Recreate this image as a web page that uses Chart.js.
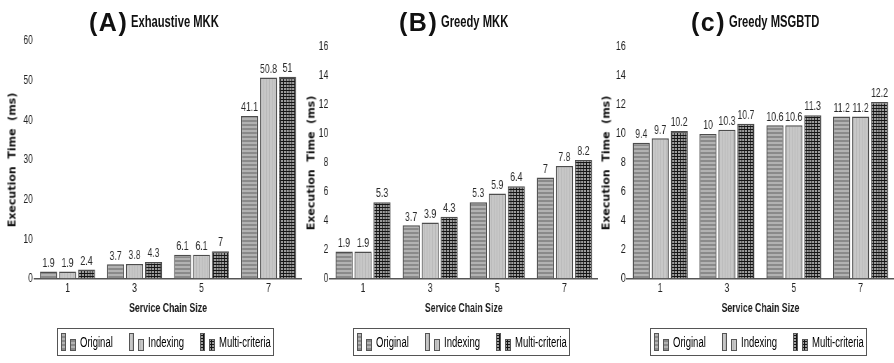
<!DOCTYPE html>
<html>
<head>
<meta charset="utf-8">
<script src="https://cdn.jsdelivr.net/npm/chart.js@4.4.0/dist/chart.umd.min.js"></script>
<style>
  html, body { margin: 0; padding: 0; background: #fff; }
  body { width: 894px; height: 363px; position: relative; overflow: hidden; font-family: "Liberation Sans", Arial, sans-serif; }
  canvas.chart { position: absolute; top: 0; }
  .title { position: absolute; top: 8px; height: 24px; line-height: 24px; white-space: nowrap; color: #111; }
  .title .tag { font: bold 25px "Liberation Sans", Arial, sans-serif; letter-spacing: 1.5px; }
  .title .name { display: inline-block; font: bold 16px "Liberation Sans", Arial, sans-serif; line-height: 16px;
                 transform: scaleX(0.7); transform-origin: left; vertical-align: 4px; margin-left: 3px; }
  .ytitle { position: absolute; white-space: pre; font: bold 11px "DejaVu Sans", sans-serif; color: #111;
            transform: translate(-50%, -50%) rotate(-90deg); }
  .legend { position: absolute; top: 328px; height: 28px; border: 1px solid #555; box-sizing: border-box;
            display: flex; align-items: center; padding: 0 2px; color: #000; font: 14px "Liberation Sans", Arial, sans-serif; }
  .legend .item { display: flex; align-items: center; }
  .legend .txt { display: inline-block; transform: scaleX(0.68); transform-origin: left; white-space: nowrap; }
  .legend canvas { display: block; margin-right: 3px; }
</style>
</head>
<body>
<canvas class="chart" id="cA"></canvas>
<canvas class="chart" id="cB"></canvas>
<canvas class="chart" id="cC"></canvas>
<script>
const categories = ['1', '3', '5', '7'];
const seriesNames = ['Original', 'Indexing', 'Multi-criteria'];

// (A) Exhaustive MKK
const exhaustiveOriginal = [1.9, 3.7, 6.1, 41.1];
const exhaustiveIndexing = [1.9, 3.8, 6.1, 50.8];
const exhaustiveMulti = [2.4, 4.3, 7, 51];

// (B) Greedy MKK
const greedyOriginal = [1.9, 3.7, 5.3, 7];
const greedyIndexing = [1.9, 3.9, 5.9, 7.8];
const greedyMulti = [5.3, 4.3, 6.4, 8.2];

// (c) Greedy MSGBTD
const msgbtdOriginal = [9.4, 10, 10.6, 11.2];
const msgbtdIndexing = [9.7, 10.3, 10.6, 11.2];
const msgbtdMulti = [10.2, 10.7, 11.3, 12.2];

// the source uses a condensed face, so each canvas is drawn wider and squeezed horizontally
const SQ = 0.7;
const LEG_SQ = 0.68;
const FONT = '"Liberation Sans", Arial, sans-serif';

function makePattern(kind) {
  const c = document.createElement('canvas');
  const g = c.getContext('2d');
  if (kind === 0) {
    c.width = 4; c.height = 4;
    g.fillStyle = '#b2b2b2'; g.fillRect(0, 0, 4, 4);
    g.fillStyle = '#8a8a8a'; g.fillRect(0, 0, 4, 2);
  } else if (kind === 1) {
    c.width = 4; c.height = 3;
    g.fillStyle = '#c7c7c7'; g.fillRect(0, 0, 4, 3);
    g.fillStyle = '#b9b9b9'; g.fillRect(0, 0, 1, 3);
  } else {
    c.width = 4; c.height = 3;
    g.fillStyle = '#151515'; g.fillRect(0, 0, 4, 3);
    g.fillStyle = '#9c9c9c'; g.fillRect(1, 1, 3, 2);
  }
  return g.createPattern(c, 'repeat');
}
const patterns = [makePattern(0), makePattern(1), makePattern(2)];

// value labels drawn last so the white grid does not cut them
const valueLabels = {
  id: 'valueLabels',
  afterDraw(chart) {
    const ctx = chart.ctx;
    ctx.save();
    ctx.font = '12.5px ' + FONT;
    ctx.fillStyle = '#2a2a2a';
    ctx.textAlign = 'center';
    ctx.textBaseline = 'bottom';
    chart.data.datasets.forEach((ds, i) => {
      chart.getDatasetMeta(i).data.forEach((bar, j) => {
        ctx.fillText(String(ds.data[j]), bar.x, bar.y - 2);
      });
    });
    ctx.restore();
  }
};

function buildPanel(cfg) {
  const canvas = document.getElementById(cfg.id);
  const w = Math.round(cfg.cssWidth / SQ);
  canvas.width = w; canvas.height = 330;
  canvas.style.width = (w * SQ) + 'px';
  canvas.style.height = '330px';
  canvas.style.left = cfg.left + 'px';

  const chart = new Chart(canvas, {
    type: 'bar',
    data: {
      labels: categories,
      datasets: cfg.series.map((d, i) => ({
        label: seriesNames[i],
        data: d,
        backgroundColor: patterns[i],
        borderColor: '#4d4d4d',
        borderWidth: 1.5,
        categoryPercentage: 0.85,
        barPercentage: 0.9
      }))
    },
    options: {
      responsive: false,
      animation: false,
      layout: { padding: { top: cfg.padTop, left: 0, right: 0, bottom: 14 } },
      plugins: { legend: { display: false }, tooltip: { enabled: false }, title: { display: false } },
      scales: {
        x: {
          grid: { display: false, drawTicks: false },
          border: { display: true, color: '#555', width: 1.5 },
          ticks: { color: '#222', font: { family: FONT, size: 12.5 }, padding: 2 },
          title: { display: true, text: 'Service Chain Size', color: '#1a1a1a',
                   font: { family: FONT, size: 12.5, weight: 'bold' }, padding: { top: 3, bottom: 0 } }
        },
        y: {
          z: 1,
          min: 0, max: cfg.max,
          afterFit: s => { s.width = cfg.axisLeft / SQ; },
          grid: { drawTicks: false, lineWidth: 1.5,
                  color: c => c.tick && c.tick.value === 0 ? 'rgba(0,0,0,0)' : '#ffffff' },
          border: { display: false },
          ticks: { stepSize: cfg.step, color: '#222', font: { family: FONT, size: 12.5 }, padding: 1.5 }
        }
      }
    },
    plugins: [valueLabels]
  });

  const area = chart.chartArea;
  const areaMid = cfg.left + (area.left + area.right) / 2 * SQ;

  // panel title
  const t = document.createElement('div');
  t.className = 'title';
  t.style.left = cfg.titleLeft + 'px';
  const tg = document.createElement('span');
  tg.className = 'tag';
  tg.textContent = cfg.tag;
  const nm = document.createElement('span');
  nm.className = 'name';
  nm.textContent = cfg.name;
  t.appendChild(tg);
  t.appendChild(nm);
  document.body.appendChild(t);
  nm.style.marginRight = (-nm.offsetWidth * 0.3) + 'px';

  // y axis title
  const yt = document.createElement('div');
  yt.className = 'ytitle';
  yt.textContent = 'Execution  Time  (ms)';
  yt.style.left = (cfg.left + cfg.yTitleX) + 'px';
  yt.style.top = ((area.top + area.bottom) / 2) + 'px';
  document.body.appendChild(yt);

  // legend
  const lg = document.createElement('div');
  lg.className = 'legend';
  const texts = [];
  seriesNames.forEach((n, i) => {
    const item = document.createElement('div');
    item.className = 'item';
    item.style.marginRight = i < seriesNames.length - 1 ? '15px' : '0';
    const sw = document.createElement('canvas');
    sw.width = 17; sw.height = 20;
    const g = sw.getContext('2d');
    g.fillStyle = patterns[i]; g.strokeStyle = '#555'; g.lineWidth = 1;
    g.fillRect(1, 1, 5, 18); g.strokeRect(1.5, 1.5, 4, 17);
    g.fillRect(10, 7, 6, 12); g.strokeRect(10.5, 7.5, 5, 11);
    item.appendChild(sw);
    const s = document.createElement('span');
    s.className = 'txt';
    s.textContent = n;
    item.appendChild(s);
    texts.push(s);
    lg.appendChild(item);
  });
  document.body.appendChild(lg);
  texts.forEach(s => { s.style.marginRight = (-s.offsetWidth * (1 - LEG_SQ)) + 'px'; });
  lg.style.left = (areaMid - 2 - lg.offsetWidth / 2) + 'px';
  return chart;
}

buildPanel({ id: 'cA', left: 0, cssWidth: 302, axisLeft: 34, padTop: 41, yTitleX: 12,
  series: [exhaustiveOriginal, exhaustiveIndexing, exhaustiveMulti], max: 60, step: 10,
  tag: '(A)', name: 'Exhaustive MKK', titleLeft: 89 });
buildPanel({ id: 'cB', left: 298, cssWidth: 300, axisLeft: 31.5, padTop: 47, yTitleX: 13,
  series: [greedyOriginal, greedyIndexing, greedyMulti], max: 16, step: 2,
  tag: '(B)', name: 'Greedy MKK', titleLeft: 399 });
buildPanel({ id: 'cC', left: 596, cssWidth: 298.5, axisLeft: 30.8, padTop: 47, yTitleX: 10,
  series: [msgbtdOriginal, msgbtdIndexing, msgbtdMulti], max: 16, step: 2,
  tag: '(c)', name: 'Greedy MSGBTD', titleLeft: 691 });
</script>
</body>
</html>
